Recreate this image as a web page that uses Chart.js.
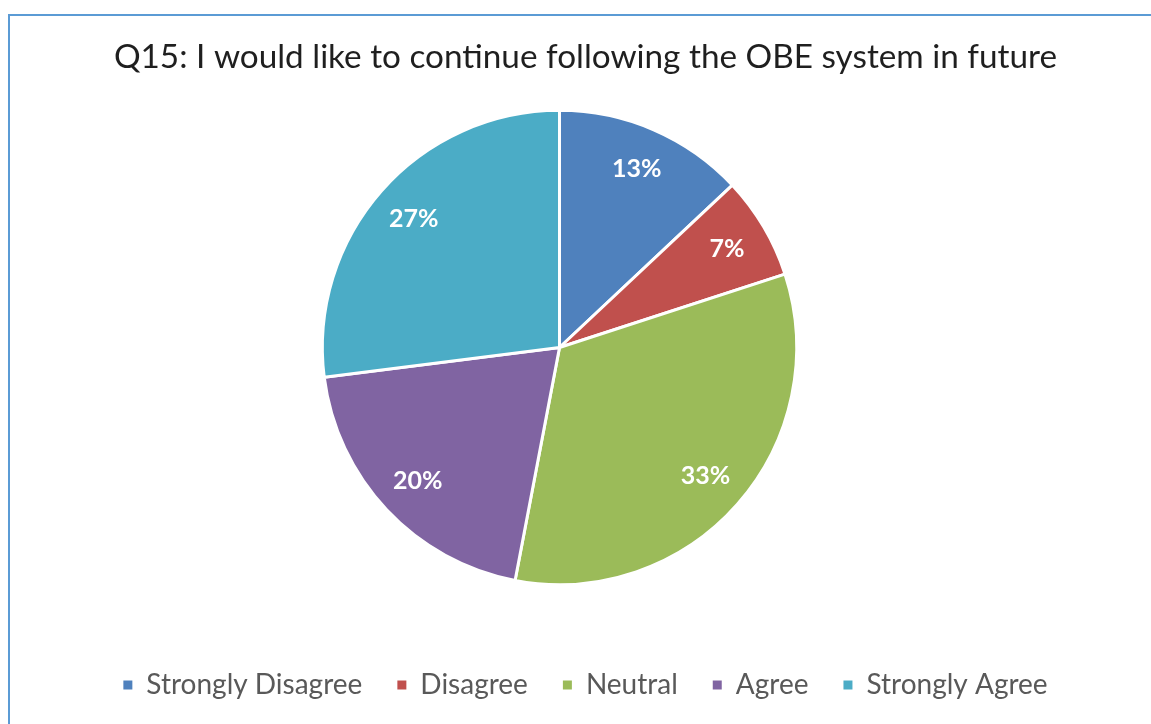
<!DOCTYPE html>
<html>
<head>
<meta charset="utf-8">
<title>Q15</title>
<script src="https://cdn.jsdelivr.net/npm/chart.js@4/dist/chart.umd.min.js"></script>
<style>
  html, body { margin: 0; padding: 0; background: #fff; overflow: hidden; }
  body { width: 1151px; height: 724px; position: relative; }
  /* chart frame: only top and left edges fall inside the window */
  .frame {
    position: absolute; left: 8px; top: 14px; width: 1200px; height: 800px;
    border-top: 2px solid #5b9bd5; border-left: 2px solid #5b9bd5;
  }
  #chart { position: absolute; left: 10px; top: 0; }
</style>
</head>
<body>
<div class="frame"></div>
<canvas id="chart" width="1151" height="724"></canvas>
<script>
const titleText = "Q15: I would like to continue following the OBE system in future";
const categories = ["Strongly Disagree", "Disagree", "Neutral", "Agree", "Strongly Agree"];
const shares     = [13, 7, 33, 20, 27];   // percent of responses
const colors     = ["#4f81bd", "#c0504d", "#9bbb59", "#8064a2", "#4bacc6"];

const FONT = "Lato, 'Open Sans', sans-serif";

// move the pie inside the plot area (title/legend stay centred)
const plotOffset = {
  id: "plotOffset",
  afterLayout(chart, args, opts) {
    const a = chart.chartArea;
    a.left += opts.x; a.right += opts.x;
    a.top += opts.y;  a.bottom += opts.y;
  }
};

// white % labels near the rim of each slice
const sliceLabels = {
  id: "sliceLabels",
  afterDatasetsDraw(chart, args, opts) {
    const ctx = chart.ctx;
    const meta = chart.getDatasetMeta(0);
    const data = chart.data.datasets[0].data;
    ctx.save();
    ctx.fillStyle = "#fff";
    ctx.font = `bold ${opts.size}px ${FONT}`;
    ctx.textAlign = "center";
    ctx.textBaseline = "middle";
    meta.data.forEach((arc, i) => {
      const p = arc.getProps(["x", "y", "startAngle", "endAngle", "outerRadius"], true);
      const mid = (p.startAngle + p.endAngle) / 2;
      const r = p.outerRadius * opts.at;
      ctx.fillText(data[i] + "%", p.x + Math.cos(mid) * r, p.y + Math.sin(mid) * r);
    });
    ctx.restore();
  }
};

const ctx = document.getElementById("chart").getContext("2d");

new Chart(ctx, {
  type: "pie",
  data: {
    labels: categories,
    datasets: [{
      data: shares,
      backgroundColor: colors,
      borderColor: "#fff",
      borderWidth: 3,
      radius: "85.3%",
    }],
  },
  options: {
    responsive: false,
    animation: false,
    layout: { padding: { bottom: 15 } },
    plugins: {
      title: {
        display: true,
        text: titleText,
        color: "#1f1f1f",
        font: { family: FONT, size: 33.3, weight: "normal", lineHeight: 1.2 },
        padding: { top: 37, bottom: 0 },
      },
      legend: {
        position: "bottom",
        labels: {
          color: "#595959",
          font: { family: FONT, size: 28 },
          boxWidth: 9,
          boxHeight: 9,
          padding: 35,
          generateLabels: chart =>
            Chart.overrides.pie.plugins.legend.labels.generateLabels(chart)
              .map(l => ({ ...l, lineWidth: 0 })),
        },
      },
      tooltip: { enabled: false },
      plotOffset: { x: -26, y: -9 },
      sliceLabels: { size: 25, at: 0.82 },
    },
  },
  plugins: [plotOffset, sliceLabels],
});
</script>
</body>
</html>
